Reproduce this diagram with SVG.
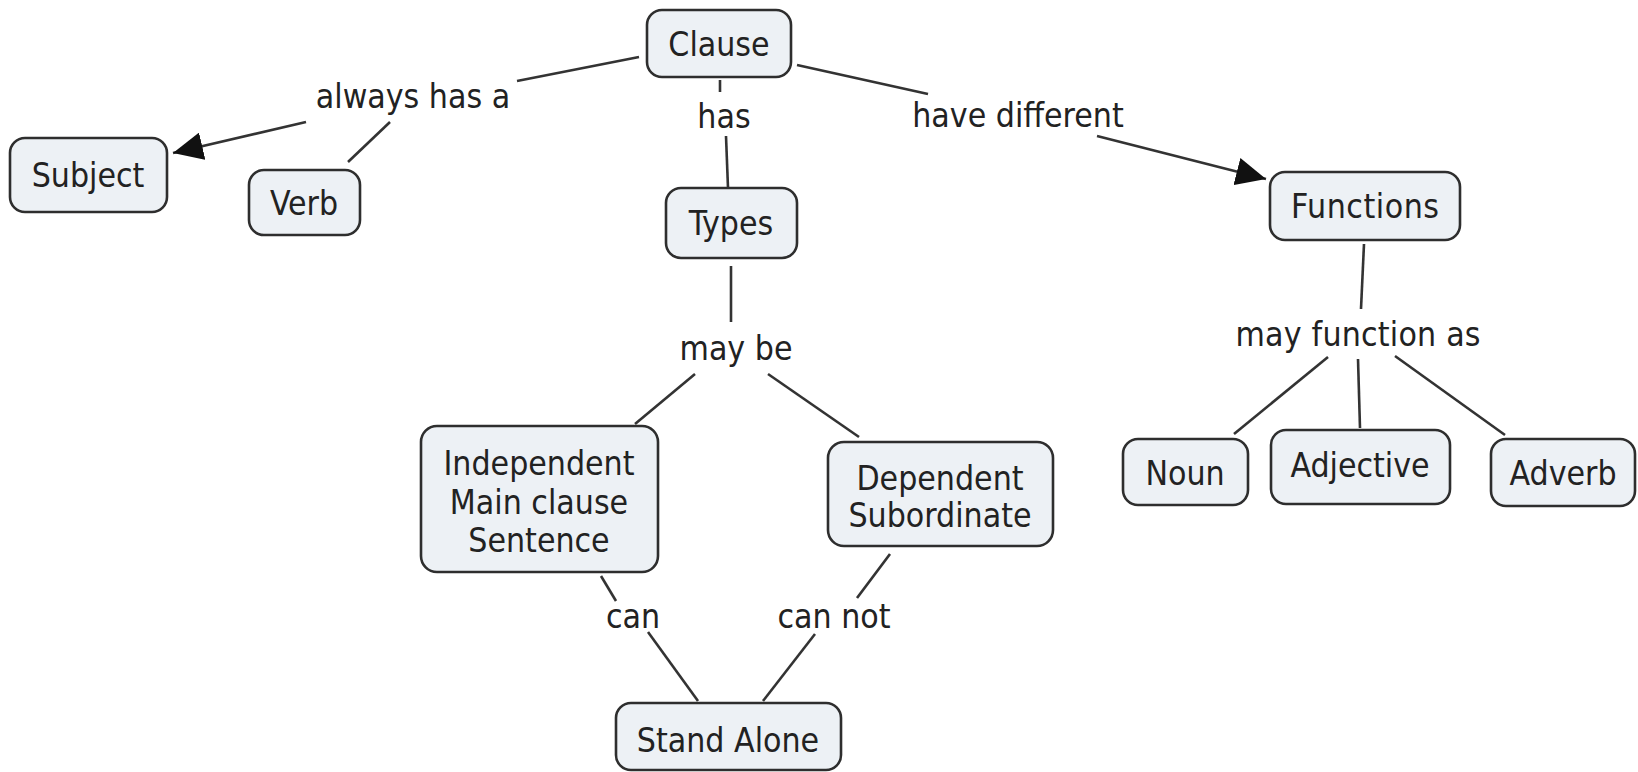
<svg xmlns="http://www.w3.org/2000/svg" width="1638" height="772" viewBox="0 0 1638 772">
<defs>
<style>
.node rect{fill:#edf1f5;stroke:#2e2e2e;stroke-width:2.6}
text{font-family:"DejaVu Sans Condensed","DejaVu Sans",Verdana,sans-serif;font-stretch:condensed;font-size:33.5px;fill:#222;text-anchor:middle}
.conn line{stroke:#333;stroke-width:2.6;fill:none}
</style>
<marker id="arr" markerUnits="userSpaceOnUse" markerWidth="32" markerHeight="28" viewBox="0 0 32 28" refX="30" refY="14" orient="auto">
<path d="M0,0 L30,14 L0,28 Z" fill="#111"/>
</marker>
</defs>
<rect width="1638" height="772" fill="#fff"/>
<g id="connectors" class="conn">
<line x1="639" y1="57" x2="517" y2="81"/>
<line x1="306" y1="122" x2="173" y2="153" marker-end="url(#arr)"/>
<line x1="390" y1="122" x2="348" y2="162"/>
<line x1="720" y1="80" x2="720" y2="92"/>
<line x1="726" y1="136" x2="728" y2="188"/>
<line x1="797" y1="65" x2="928" y2="94"/>
<line x1="1097" y1="136" x2="1266" y2="179" marker-end="url(#arr)"/>
<line x1="731" y1="266" x2="731" y2="322"/>
<line x1="695" y1="374" x2="635" y2="424"/>
<line x1="768" y1="374" x2="859" y2="437"/>
<line x1="601" y1="576" x2="616" y2="601"/>
<line x1="648" y1="632" x2="698" y2="701"/>
<line x1="890" y1="554" x2="857" y2="598"/>
<line x1="815" y1="634" x2="763" y2="701"/>
<line x1="1364" y1="244" x2="1361" y2="309"/>
<line x1="1328" y1="357" x2="1234" y2="434"/>
<line x1="1358" y1="359" x2="1360" y2="428"/>
<line x1="1395" y1="356" x2="1505" y2="435"/>
</g>
<g id="labels">
<text x="413" y="108">always has a</text>
<text x="724" y="128">has</text>
<text x="1018" y="127">have different</text>
<text x="736" y="360">may be</text>
<text x="633" y="628">can</text>
<text x="834" y="628">can not</text>
<text x="1358" y="346" textLength="245" lengthAdjust="spacing">may function as</text>
</g>
<g id="clause" class="node"><rect x="647" y="10" width="144" height="67" rx="15"/><text x="719" y="56">Clause</text></g>
<g id="subject" class="node"><rect x="10" y="138" width="157" height="74" rx="15"/><text x="88" y="187">Subject</text></g>
<g id="verb" class="node"><rect x="249" y="170" width="111" height="65" rx="15"/><text x="304" y="215">Verb</text></g>
<g id="types" class="node"><rect x="666" y="188" width="131" height="70" rx="15"/><text x="731" y="235">Types</text></g>
<g id="functions" class="node"><rect x="1270" y="172" width="190" height="68" rx="15"/><text x="1365" y="218" textLength="148" lengthAdjust="spacing">Functions</text></g>
<g id="independent" class="node"><rect x="421" y="426" width="237" height="146" rx="16"/><text x="539" y="475">Independent</text><text x="539" y="514">Main clause</text><text x="539" y="552">Sentence</text></g>
<g id="dependent" class="node"><rect x="828" y="442" width="225" height="104" rx="16"/><text x="940" y="490">Dependent</text><text x="940" y="527">Subordinate</text></g>
<g id="standalone" class="node"><rect x="616" y="703" width="225" height="67" rx="15"/><text x="728" y="752">Stand Alone</text></g>
<g id="noun" class="node"><rect x="1123" y="439" width="125" height="66" rx="15"/><text x="1185" y="485">Noun</text></g>
<g id="adjective" class="node"><rect x="1271" y="430" width="179" height="74" rx="15"/><text x="1360" y="477">Adjective</text></g>
<g id="adverb" class="node"><rect x="1491" y="439" width="144" height="67" rx="15"/><text x="1563" y="485">Adverb</text></g>
</svg>
